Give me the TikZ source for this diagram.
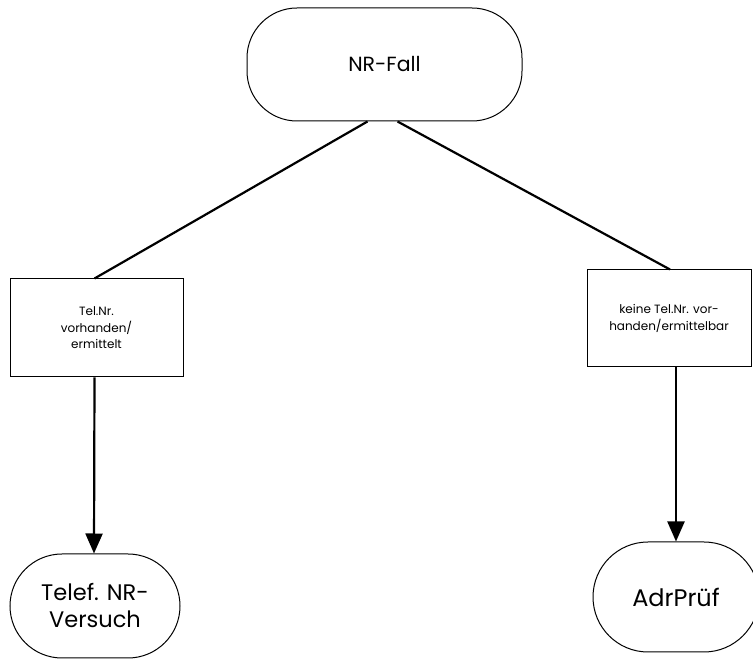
\documentclass[tikz,border=0pt]{standalone}
\usepackage{fontspec}
\setmainfont{Poppins}
\usetikzlibrary{arrows.meta}
\begin{document}
\begin{tikzpicture}[x=1pt,y=1pt,
  conn/.style={line width=2.2pt},
  arr/.style={line width=2.2pt,-{Triangle[length=20pt,width=17pt]}},
  termbox/.style={draw,line width=1pt,align=center,inner sep=0pt},
  condbox/.style={draw,line width=1pt,align=center,inner sep=0pt,font=\fontsize{12}{16.5}\selectfont}]
\useasboundingbox (0,0) rectangle (753,667);
\clip (0,0) rectangle (753,667);
\node[termbox,minimum width=275pt,minimum height=113pt,rounded corners=50pt,font=\fontsize{20.5}{24}\selectfont] (top) at (384.5,602.5) {NR-Fall};
\node[condbox,minimum width=173pt,minimum height=98pt] (left) at (96.5,339) {Tel.Nr.\\vorhanden/\\ermittelt};
\node[condbox,minimum width=164pt,minimum height=97pt] (right) at (669,348.5) {keine Tel.Nr. vor-\\handen/ermittelbar};
\node[termbox,minimum width=170pt,minimum height=104pt,rounded corners=52pt,font=\fontsize{22.5}{27}\selectfont] (bl) at (95,61) {Telef. NR-\\Versuch};
\node[termbox,minimum width=166pt,minimum height=110pt,rounded corners=55pt,font=\fontsize{24}{28}\selectfont] (br) at (676,70) {AdrPrüf};
\draw[conn] ([xshift=-17pt]top.south) -- ([xshift=-2pt]left.north);
\draw[conn] ([xshift=13pt]top.south) -- ([xshift=1pt]right.north);
\draw[arr] ([xshift=-2pt]left.south) -- ([xshift=-1pt]bl.north);
\draw[arr] ([xshift=7pt]right.south) -- (br.north);
\end{tikzpicture}
\end{document}
